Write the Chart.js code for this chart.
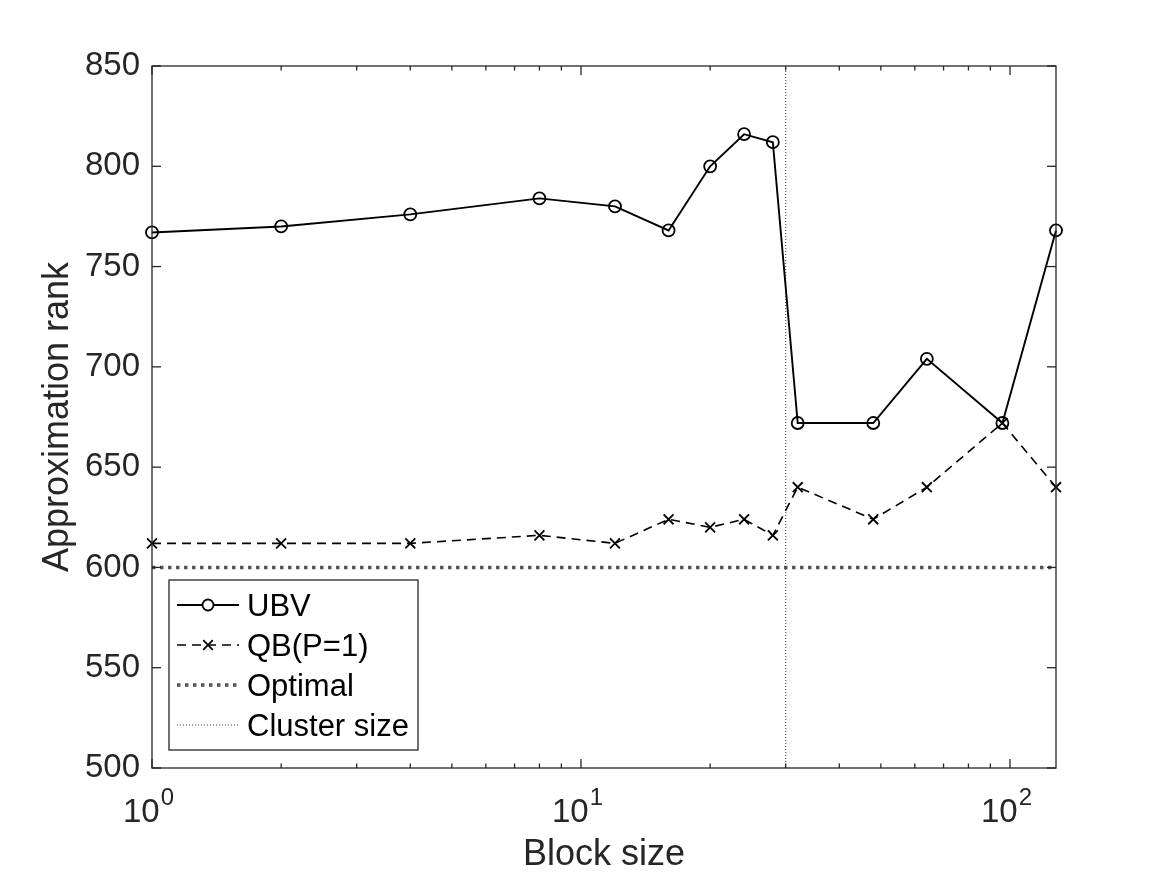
<!DOCTYPE html>
<html>
<head>
<meta charset="utf-8">
<script src="https://cdn.jsdelivr.net/npm/chart.js@4.4.1/dist/chart.umd.min.js"></script>
<style>
  html, body { margin: 0; padding: 0; background: #ffffff; }
  #c { display: block; }
</style>
</head>
<body>
<canvas id="c" width="1167" height="875" style="width:1167px;height:875px"></canvas>
<script>
// ---- data ----
const blockSizes = [1, 2, 4, 8, 12, 16, 20, 24, 28, 32, 48, 64, 96, 128];
const ubvRank    = [767, 770, 776, 784, 780, 768, 800, 816, 812, 672, 672, 704, 672, 768];
const qbRank     = [612, 612, 612, 616, 612, 624, 620, 624, 616, 640, 624, 640, 672, 640];
const optimalRank = 600;
const clusterSize = 30;
const xRange = [1, 128];
const yRange = [500, 850];
const yTicks = [500, 550, 600, 650, 700, 750, 800, 850];
const xMajorTicks = [1, 10, 100];
const xTickBase = ['10', '10', '10'];
const xTickExp = ['0', '1', '2'];
const seriesLabels = ['UBV', 'QB(P=1)', 'Optimal', 'Cluster size'];
const xTitle = 'Block size';
const yTitle = 'Approximation rank';

const FONT = '"Liberation Sans", Arial, Helvetica, sans-serif';
const TXT = '#262626';

const datasets = [
  {
    label: seriesLabels[0],
    data: blockSizes.map((x, i) => ({ x: x, y: ubvRank[i] })),
    borderColor: '#000000', borderWidth: 1.9,
    pointStyle: 'circle', pointRadius: 6, pointBorderWidth: 1.8,
    pointBackgroundColor: 'rgba(0,0,0,0)', pointBorderColor: '#000000',
    tension: 0, clip: false
  },
  {
    label: seriesLabels[1],
    data: blockSizes.map((x, i) => ({ x: x, y: qbRank[i] })),
    borderColor: '#000000', borderWidth: 1.6, borderDash: [9, 6],
    pointStyle: 'crossRot', pointRadius: 7, pointBorderWidth: 1.8,
    pointBackgroundColor: 'rgba(0,0,0,0)', pointBorderColor: '#000000',
    tension: 0, clip: false
  },
  {
    label: seriesLabels[2],
    data: [{ x: xRange[0], y: optimalRank }, { x: xRange[1], y: optimalRank }],
    borderColor: '#555555', borderWidth: 3.5, borderDash: [3.5, 4.5],
    pointRadius: 0, tension: 0
  },
  {
    label: seriesLabels[3],
    data: [{ x: clusterSize, y: yRange[0] }, { x: clusterSize, y: yRange[1] }],
    borderColor: '#333333', borderWidth: 1, borderDash: [1, 2],
    pointRadius: 0, tension: 0
  }
];

function seg(ctx, x1, y1, x2, y2) {
  ctx.beginPath(); ctx.moveTo(x1, y1); ctx.lineTo(x2, y2); ctx.stroke();
}

const axesPlugin = {
  id: 'matlabAxes',
  afterDraw(chart) {
    const ctx = chart.ctx;
    const { left, right, top, bottom } = chart.chartArea;
    const xs = chart.scales.x, ys = chart.scales.y;
    ctx.save();
    ctx.strokeStyle = TXT;
    ctx.lineWidth = 1.3;
    ctx.setLineDash([]);
    // y ticks (inward, both sides)
    yTicks.forEach(v => {
      const py = ys.getPixelForValue(v);
      seg(ctx, left, py, left + 9, py);
      seg(ctx, right, py, right - 9, py);
    });
    // x ticks (log, major + minor)
    xMajorTicks.forEach(d => {
      for (let k = 1; k <= 9; k++) {
        const v = k * d;
        if (v < xRange[0] || v > xRange[1]) continue;
        const len = k === 1 ? 9 : 4.5;
        const px = xs.getPixelForValue(v);
        seg(ctx, px, bottom, px, bottom - len);
        seg(ctx, px, top, px, top + len);
      }
    });
    // box
    ctx.strokeRect(left, top, right - left, bottom - top);

    // x tick labels with superscripts
    ctx.fillStyle = TXT;
    ctx.textBaseline = 'alphabetic';
    ctx.textAlign = 'left';
    xMajorTicks.forEach((v, i) => {
      const px = xs.getPixelForValue(v);
      ctx.font = '33px ' + FONT;
      const wb = ctx.measureText(xTickBase[i]).width;
      ctx.font = '24px ' + FONT;
      const we = ctx.measureText(xTickExp[i]).width;
      const x0 = px - (wb + we) / 2 - 4;
      ctx.font = '33px ' + FONT;
      ctx.fillText(xTickBase[i], x0, 822);
      ctx.font = '24px ' + FONT;
      ctx.fillText(xTickExp[i], x0 + wb + 1, 805);
    });

    // legend
    const lx0 = 169, ly0 = 580, lx1 = 418, ly1 = 750;
    ctx.fillStyle = '#ffffff';
    ctx.fillRect(lx0, ly0, lx1 - lx0, ly1 - ly0);
    ctx.strokeStyle = TXT;
    ctx.lineWidth = 1.3;
    ctx.strokeRect(lx0, ly0, lx1 - lx0, ly1 - ly0);
    const rowsY = [605, 645, 685, 725];
    const sx0 = 177, sx1 = 239, sxm = (sx0 + sx1) / 2;
    chart.data.datasets.forEach((ds, i) => {
      const cy = rowsY[i];
      ctx.save();
      ctx.strokeStyle = ds.borderColor;
      ctx.lineWidth = ds.borderWidth;
      ctx.setLineDash(ds.borderDash || []);
      seg(ctx, sx0, cy, sx1, cy);
      ctx.setLineDash([]);
      if (ds.pointRadius > 0) {
        ctx.lineWidth = ds.pointBorderWidth;
        if (ds.pointStyle === 'circle') {
          ctx.fillStyle = '#ffffff';
          ctx.beginPath(); ctx.arc(sxm, cy, 5.5, 0, Math.PI * 2); ctx.fill(); ctx.stroke();
        } else if (ds.pointStyle === 'crossRot') {
          const r = 4.8;
          seg(ctx, sxm - r, cy - r, sxm + r, cy + r);
          seg(ctx, sxm - r, cy + r, sxm + r, cy - r);
        }
      }
      ctx.restore();
      ctx.fillStyle = '#000000';
      ctx.font = '31px ' + FONT;
      ctx.textBaseline = 'alphabetic';
      ctx.textAlign = 'left';
      ctx.fillText(ds.label, 247, cy + 11);
    });
    ctx.restore();
  }
};

new Chart(document.getElementById('c').getContext('2d'), {
  type: 'line',
  data: { datasets: datasets },
  options: {
    responsive: false,
    animation: false,
    layout: { padding: { left: 0, top: 66, right: 111, bottom: 0 } },
    plugins: { legend: { display: false }, tooltip: { enabled: false } },
    scales: {
      x: {
        type: 'logarithmic', min: xRange[0], max: xRange[1], position: 'bottom',
        grid: { display: false, drawTicks: false }, border: { display: false },
        ticks: { display: false },
        afterFit(s) { s.height = 107; },
        title: { display: true, text: xTitle, color: TXT,
                 font: { family: FONT, size: 36, lineHeight: 1 }, padding: { top: 0, bottom: 2 } }
      },
      y: {
        type: 'linear', min: yRange[0], max: yRange[1], position: 'left',
        afterBuildTicks(s) { s.ticks = yTicks.map(v => ({ value: v })); },
        grid: { display: false, drawTicks: false }, border: { display: false },
        ticks: { color: TXT, padding: 12, font: { family: FONT, size: 33 } },
        afterFit(s) { s.width = 152; },
        title: { display: true, text: yTitle, color: TXT,
                 font: { family: FONT, size: 36, lineHeight: 1 }, padding: { top: 40, bottom: 0 } }
      }
    }
  },
  plugins: [axesPlugin]
});
</script>
</body>
</html>
